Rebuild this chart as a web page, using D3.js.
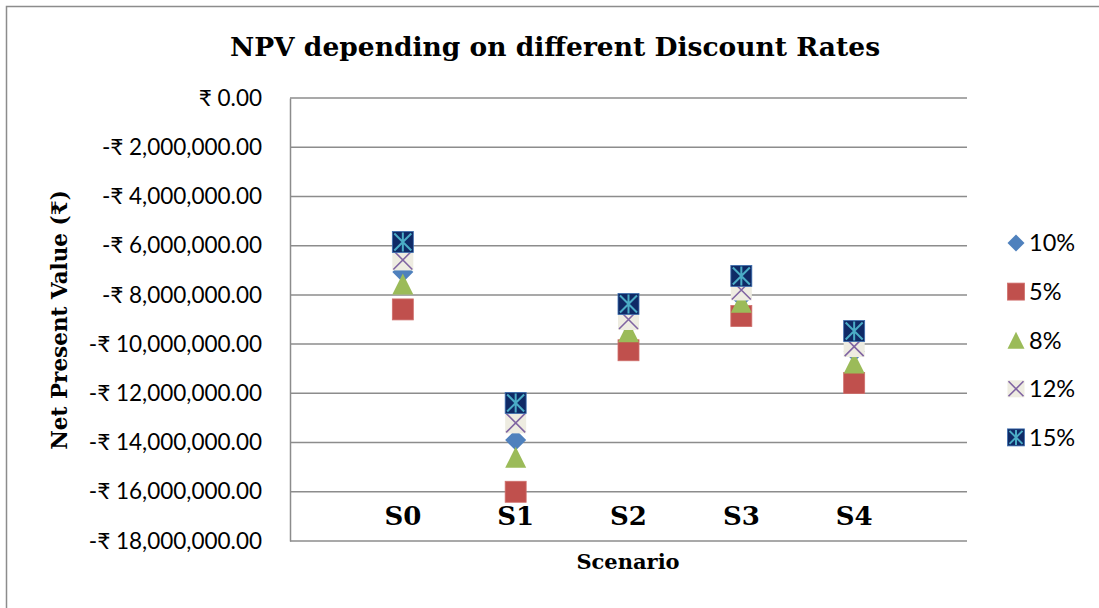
<!DOCTYPE html>
<html>
<head>
<meta charset="utf-8">
<script src="https://cdn.jsdelivr.net/npm/d3@7"></script>
<style>
  body { margin: 0; background: #fff; }
  .serif { font-family: "Palatino Linotype", "Book Antiqua", "DejaVu Serif", "Liberation Serif", serif; font-weight: bold; }
  .tick-label { font-family: Lato, "Noto Sans", "DejaVu Sans", sans-serif; font-size: 22.5px; fill: #000; }
  .legend-label { font-family: Lato, "Noto Sans", sans-serif; font-size: 23.5px; fill: #000; }
</style>
</head>
<body>
<div id="main-chart"></div>
<script>
// NPV scatter by scenario and discount rate

var scenarios = ["S0", "S1", "S2", "S3", "S4"];
var rates = ["10%", "5%", "8%", "12%", "15%"];
var yTicks = [0, -2000000, -4000000, -6000000, -8000000, -10000000, -12000000, -14000000, -16000000, -18000000];

// values, one array per rate
var npv10 = [-7070000, -13900000, -9200000, -8100000, -10300000];
var npv5 = [-8590000, -16000000, -10250000, -8860000, -11580000];
var npv8 = [-7560000, -14600000, -9500000, -8300000, -10770000];
var npv12 = [-6580000, -13200000, -9000000, -7800000, -10100000];
var npv15 = [-5850000, -12390000, -8370000, -7230000, -9470000];

var seriesValues = [npv10, npv5, npv8, npv12, npv15];
var markerTypes = ["diamond", "square", "triangle", "cross", "star"];

var width = 1099, height = 608;
var margin = { top: 98, right: 132, bottom: 67, left: 290 };
var plotW = width - margin.left - margin.right;
var plotH = height - margin.top - margin.bottom;

var svg = d3
  .select("#main-chart")
  .append("svg")
  .attr("width", width)
  .attr("height", height);

// outer frame (only top and left edges are visible in the picture)
svg.append("path")
  .attr("d", "M6.5,608 V6.5 H1099")
  .attr("fill", "none")
  .attr("stroke", "#8c8c8c")
  .attr("stroke-width", 1.5);

var g = svg.append("g")
  .attr("transform", "translate(" + margin.left + "," + margin.top + ")");

var xScale = d3.scaleLinear().domain([0, 6]).range([0, plotW]);
var yScale = d3.scaleLinear().domain([-18000000, 0]).range([plotH, 0]);

// gridlines
g.append("g")
  .selectAll("line")
  .data(yTicks)
  .enter()
  .append("line")
  .attr("x1", 0)
  .attr("x2", plotW)
  .attr("y1", function(d) { return yScale(d); })
  .attr("y2", function(d) { return yScale(d); })
  .attr("stroke", "#8c8c8c")
  .attr("stroke-width", 1.5);

// y axis
var yAxis = g.append("g")
  .call(d3.axisLeft(yScale)
    .tickValues(yTicks)
    .tickSize(0)
    .tickPadding(28)
    .tickFormat(function(d) {
      var s = "₹ " + d3.format(",.2f")(Math.abs(d));
      return d < 0 ? "-" + s : s;
    }));
yAxis.select(".domain").attr("stroke", "#8c8c8c").attr("stroke-width", 1.5);
yAxis.selectAll("text").attr("class", "tick-label");

// category labels
g.append("g")
  .selectAll("text")
  .data(scenarios)
  .enter()
  .append("text")
  .attr("class", "serif")
  .attr("x", function(d, i) { return xScale(i + 1); })
  .attr("y", yScale(-17000000))
  .attr("dy", "0.35em")
  .attr("text-anchor", "middle")
  .style("font-size", "26px")
  .text(function(d) { return d; });

// marker drawing
var colors = {
  diamond: "#4f81bd",
  square: "#c0504d",
  triangle: "#9bbb59",
  cross: "#8064a2",
  star: "#4bacc6"
};

function drawMarker(sel, type, cx, cy, s) {
  var h = s / 2;
  var m = sel.append("g").attr("transform", "translate(" + cx + "," + cy + ")");
  if (type === "diamond") {
    m.append("path").attr("d", "M0," + (-h) + " L" + h + ",0 L0," + h + " L" + (-h) + ",0 Z")
      .attr("fill", colors.diamond);
  } else if (type === "square") {
    m.append("rect").attr("x", -h).attr("y", -h).attr("width", s).attr("height", s)
      .attr("fill", colors.square).attr("stroke", "#cf6f6c").attr("stroke-width", 0.8);
  } else if (type === "triangle") {
    m.append("path").attr("d", "M0," + (-h) + " L" + h + "," + h + " L" + (-h) + "," + h + " Z")
      .attr("fill", colors.triangle);
  } else if (type === "cross") {
    m.append("rect").attr("x", -h).attr("y", -h).attr("width", s).attr("height", s)
      .attr("fill", "#eeece1");
    m.append("path").attr("d", "M" + (-h + 1) + "," + (-h + 1) + " L" + (h - 1) + "," + (h - 1) +
      " M" + (h - 1) + "," + (-h + 1) + " L" + (-h + 1) + "," + (h - 1))
      .attr("stroke", colors.cross).attr("stroke-width", 1.6);
  } else if (type === "star") {
    m.append("rect").attr("x", -h).attr("y", -h).attr("width", s).attr("height", s)
      .attr("fill", "#0f2a66").attr("stroke", "#3d6fb0").attr("stroke-width", 0.8);
    m.append("path").attr("d", "M" + (-h + 2) + "," + (-h + 2) + " L" + (h - 2) + "," + (h - 2) +
      " M" + (h - 2) + "," + (-h + 2) + " L" + (-h + 2) + "," + (h - 2) +
      " M0," + (-h + 1) + " L0," + (h - 1))
      .attr("stroke", colors.star).attr("stroke-width", 2);
  }
}

// points, drawn in legend order so 15% ends on top
seriesValues.forEach(function(vals, si) {
  var layer = g.append("g").attr("class", "series-" + si);
  vals.forEach(function(v, i) {
    drawMarker(layer, markerTypes[si], xScale(i + 1), yScale(v), 21);
  });
});

// legend
var legend = svg.append("g").attr("transform", "translate(1016,243)");
rates.forEach(function(r, i) {
  var row = legend.append("g").attr("transform", "translate(0," + i * 48.6 + ")");
  drawMarker(row, markerTypes[i], 0, 0, 17);
  row.append("text")
    .attr("class", "legend-label")
    .attr("x", 13)
    .attr("dy", "0.36em")
    .text(r);
});

// title
svg.append("text")
  .attr("class", "serif")
  .attr("x", 555)
  .attr("y", 56)
  .attr("text-anchor", "middle")
  .style("font-size", "26.5px")
  .text("NPV depending on different Discount Rates");

// axis titles
svg.append("text")
  .attr("class", "serif")
  .attr("x", 628)
  .attr("y", 569)
  .attr("text-anchor", "middle")
  .style("font-size", "21px")
  .text("Scenario");

svg.append("text")
  .attr("class", "serif")
  .attr("transform", "translate(67,320) rotate(-90)")
  .attr("text-anchor", "middle")
  .style("font-size", "21.5px")
  .text("Net Present Value (₹)");
</script>
</body>
</html>
